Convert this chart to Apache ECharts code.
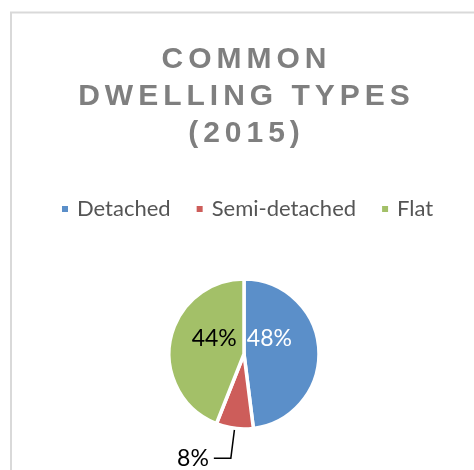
<!DOCTYPE html>
<html>
<head>
<meta charset="utf-8">
<script src="https://cdn.jsdelivr.net/npm/echarts@6/dist/echarts.min.js"></script>
<style>
  html, body { margin: 0; padding: 0; background: #fff; }
  #chart { width: 474px; height: 470px; }
</style>
</head>
<body>
<div id="chart"></div>
<script>
// dwelling share
const types = ['Detached', 'Semi-detached', 'Flat'];
const shares = [48, 8, 44];
const colors = ['#5b8fc9', '#cd5d5a', '#a3c068'];
const titleLines = ['COMMON', 'DWELLING TYPES', '(2015)'];

// letter spacing via six-per-em spaces
function spaced(s) {
  return s.split('').join('\u2006');
}

// nudge the inside labels like excel's best fit
const labelShift = {
  0: { dx: -15, dy: -13 },
  2: { dx: 10, dy: -8 }
};

const chart = echarts.init(document.getElementById('chart'));
chart.setOption({
  backgroundColor: '#fff',
  animation: false,
  graphic: [{
    type: 'rect',
    shape: { x: 11, y: 12.5, width: 600, height: 600 },
    style: { fill: 'none', stroke: '#d9d9d9', lineWidth: 2 },
    silent: true
  }],
  title: {
    text: titleLines.map(spaced).join('\n'),
    left: 244,
    top: 41,
    padding: 0,
    textAlign: 'center',
    textStyle: {
      fontFamily: 'Liberation Sans',
      fontWeight: 'bold',
      fontSize: 30,
      lineHeight: 37,
      color: '#7f7f7f'
    }
  },
  legend: {
    data: types,
    left: 55,
    top: 192,
    icon: 'rect',
    itemWidth: 8,
    itemHeight: 8,
    itemGap: 24,
    textStyle: {
      fontFamily: 'Lato',
      fontSize: 22,
      lineHeight: 24,
      color: '#555555',
      padding: [0, 0, 0, 3]
    }
  },
  series: [{
    type: 'pie',
    center: [244, 354],
    radius: 75,
    startAngle: 90,
    clockwise: true,
    itemStyle: { borderColor: '#fff', borderWidth: 3.5 },
    label: {
      formatter: '{d}%',
      fontFamily: 'Lato',
      fontSize: 23
    },
    labelLayout: function (p) {
      return labelShift[p.dataIndex] || {};
    },
    data: types.map(function (name, i) {
      const item = { name: name, value: shares[i], itemStyle: { color: colors[i] } };
      if (i === 1) {
        item.label = { position: 'outside', color: '#000' };
        item.labelLine = { show: true, length: 30, length2: 17, lineStyle: { color: '#000', width: 1.5 } };
      } else {
        item.label = { position: 'inside', color: i === 0 ? '#fff' : '#000' };
      }
      return item;
    })
  }]
});
</script>
</body>
</html>
